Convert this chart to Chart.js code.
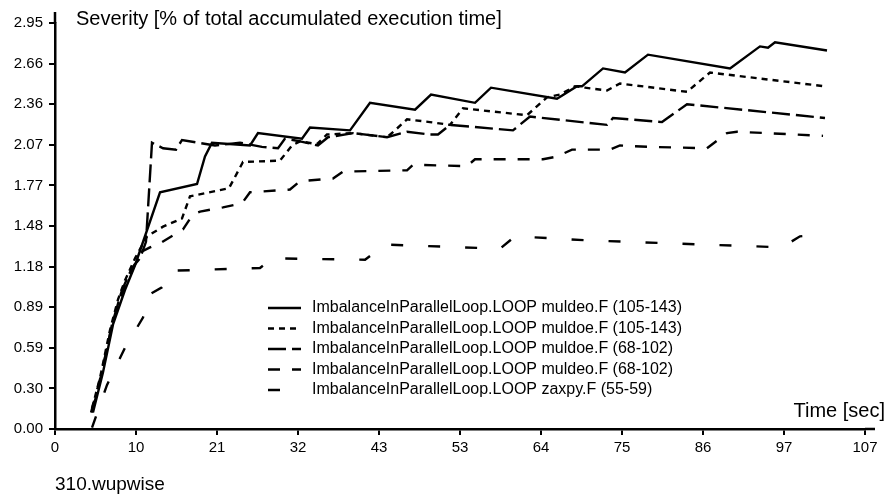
<!DOCTYPE html>
<html>
<head>
<meta charset="utf-8">
<title>310.wupwise imbalance</title>
<script src="https://cdn.jsdelivr.net/npm/chart.js@4.4.1/dist/chart.umd.min.js"></script>
<style>
    body { margin: 0; background: #fff; }
    #wrap { position: relative; width: 891px; height: 500px; }
</style>
</head>
<body>
<div id="wrap"><canvas id="severityChart"></canvas></div>
<script>
// --- Data (time in sec, severity in %) ---
const xTickLabels = ['0', '10', '21', '32', '43', '53', '64', '75', '86', '97', '107'];
const yTickLabels = ['0.00', '0.30', '0.59', '0.89', '1.18', '1.48', '1.77', '2.07', '2.36', '2.66', '2.95'];
const xMax = 107.9;
const yMax = 2.95;

const seriesNames = [
    'ImbalanceInParallelLoop.LOOP muldeo.F (105-143)',
    'ImbalanceInParallelLoop.LOOP muldoe.F (105-143)',
    'ImbalanceInParallelLoop.LOOP muldoe.F (68-102)',
    'ImbalanceInParallelLoop.LOOP muldeo.F (68-102)',
    'ImbalanceInParallelLoop.LOOP zaxpy.F (55-59)'
];

const muldeo105Time = [5.06, 6.39, 7.73, 9.32, 10.66, 13.99, 18.92, 19.98, 20.91, 25.98, 27.04, 32.90, 33.97, 39.30, 41.96, 47.96, 50.09, 55.95, 58.08, 66.87, 69.54, 70.20, 73.00, 75.93, 78.99, 89.92, 93.91, 94.98, 95.91, 102.84];
const muldeo105Sev  = [0.12, 0.41, 0.76, 1.01, 1.19, 1.72, 1.78, 1.98, 2.08, 2.06, 2.15, 2.11, 2.19, 2.17, 2.37, 2.32, 2.43, 2.37, 2.48, 2.40, 2.49, 2.49, 2.62, 2.59, 2.72, 2.62, 2.78, 2.77, 2.81, 2.75];

const muldoe105Time = [4.93, 5.99, 7.33, 8.39, 9.32, 10.66, 12.26, 14.39, 16.92, 17.98, 23.18, 25.04, 29.97, 31.57, 32.64, 34.90, 36.23, 39.70, 44.23, 45.29, 46.89, 49.95, 52.62, 54.35, 62.88, 65.54, 67.27, 69.27, 70.60, 73.53, 75.26, 84.19, 87.25, 102.57];
const muldoe105Sev  = [0.15, 0.37, 0.72, 0.94, 1.08, 1.24, 1.40, 1.47, 1.53, 1.69, 1.75, 1.94, 1.95, 2.06, 2.09, 2.07, 2.14, 2.15, 2.12, 2.17, 2.25, 2.23, 2.21, 2.33, 2.28, 2.41, 2.43, 2.49, 2.48, 2.46, 2.51, 2.45, 2.59, 2.49];

const muldoe68Time = [4.93, 6.26, 7.59, 8.93, 10.26, 11.32, 12.12, 12.92, 14.39, 16.12, 16.92, 21.31, 24.64, 27.57, 29.71, 30.64, 32.64, 35.03, 36.37, 39.70, 44.23, 46.89, 49.95, 51.02, 52.62, 61.01, 63.27, 73.53, 74.33, 80.86, 84.19, 102.57];
const muldoe68Sev  = [0.12, 0.41, 0.76, 1.01, 1.17, 1.24, 1.36, 2.08, 2.04, 2.03, 2.10, 2.06, 2.08, 2.05, 2.04, 2.11, 2.09, 2.06, 2.12, 2.15, 2.12, 2.16, 2.14, 2.14, 2.21, 2.17, 2.27, 2.21, 2.26, 2.23, 2.36, 2.26];

const muldeo68Time = [4.80, 6.13, 7.46, 8.66, 9.72, 10.66, 11.59, 12.65, 13.99, 17.05, 18.38, 19.32, 22.38, 24.91, 25.98, 31.30, 32.64, 37.03, 38.36, 46.89, 47.69, 54.88, 55.95, 65.01, 66.87, 68.87, 73.93, 75.26, 79.26, 86.85, 89.52, 90.85, 102.31];
const muldeo68Sev  = [0.12, 0.39, 0.72, 0.95, 1.08, 1.20, 1.29, 1.32, 1.35, 1.45, 1.56, 1.58, 1.61, 1.64, 1.72, 1.74, 1.80, 1.82, 1.87, 1.88, 1.92, 1.91, 1.96, 1.96, 1.98, 2.03, 2.03, 2.06, 2.05, 2.04, 2.15, 2.16, 2.13];

const zaxpyTime = [4.93, 6.93, 9.32, 11.72, 12.65, 14.25, 15.59, 27.31, 28.91, 41.30, 43.96, 59.28, 61.28, 71.27, 81.53, 96.84, 99.24, 101.24];
const zaxpySev  = [0.01, 0.32, 0.59, 0.81, 0.98, 1.03, 1.15, 1.17, 1.24, 1.23, 1.34, 1.31, 1.40, 1.37, 1.35, 1.32, 1.40, 1.41];

const seriesTimes = [muldeo105Time, muldoe105Time, muldoe68Time, muldeo68Time, zaxpyTime];
const seriesSevs = [muldeo105Sev, muldoe105Sev, muldoe68Sev, muldeo68Sev, zaxpySev];
const seriesDashes = [[], [6, 5], [18, 6], [12, 12], [12, 25]];

const fontFamily = '"Liberation Sans", Arial, sans-serif';

function toPoints(times, sevs) {
    return times.map((t, i) => ({ x: t, y: sevs[i] }));
}

// --- Extra text, legend and axis overhang ---
const annotationsPlugin = {
    id: 'annotations',
    afterDraw(chart) {
        const ctx = chart.ctx;
        const area = chart.chartArea;
        ctx.save();
        ctx.strokeStyle = '#000';
        ctx.lineWidth = 2.5;
        ctx.setLineDash([]);
        ctx.beginPath();
        ctx.moveTo(area.left, area.top);
        ctx.lineTo(area.left, 12);
        ctx.moveTo(area.right, area.bottom);
        ctx.lineTo(875, area.bottom);
        ctx.stroke();

        ctx.fillStyle = '#000';
        ctx.textBaseline = 'alphabetic';
        ctx.font = '20px ' + fontFamily;
        ctx.textAlign = 'left';
        ctx.fillText('Severity [% of total accumulated execution time]', 76, 25);
        ctx.textAlign = 'right';
        ctx.fillText('Time [sec]', 885, 417);
        ctx.textAlign = 'left';
        ctx.font = '19px ' + fontFamily;
        ctx.fillText('310.wupwise', 55, 490);

        // legend
        ctx.font = '16px ' + fontFamily;
        ctx.textBaseline = 'middle';
        chart.data.datasets.forEach((ds, i) => {
            const y = 308 + i * 20.5;
            ctx.setLineDash(ds.borderDash);
            ctx.lineWidth = 2.5;
            ctx.beginPath();
            ctx.moveTo(268, y);
            ctx.lineTo(301, y);
            ctx.stroke();
            ctx.setLineDash([]);
            ctx.fillText(ds.label, 312, y);
        });
        ctx.restore();
    }
};

function initSeverityChart() {
    const ctx = document.getElementById('severityChart');
    if (!ctx) return;

    const datasets = seriesNames.map((name, i) => ({
        label: name,
        data: toPoints(seriesTimes[i], seriesSevs[i]),
        borderColor: '#000',
        backgroundColor: '#000',
        borderWidth: 2.4,
        borderDash: seriesDashes[i],
        pointRadius: 0,
        tension: 0,
        fill: false
    }));

    new Chart(ctx.getContext('2d'), {
        type: 'line',
        data: { datasets },
        options: {
            responsive: true,
            maintainAspectRatio: false,
            animation: false,
            layout: { padding: { top: 23, right: 26, left: 0, bottom: 0 } },
            plugins: { legend: { display: false }, tooltip: { enabled: false } },
            scales: {
                x: {
                    type: 'linear',
                    min: 0,
                    max: xMax,
                    afterBuildTicks: (scale) => {
                        scale.ticks = xTickLabels.map((_, k) => ({ value: k * xMax / 10 }));
                    },
                    afterFit: (scale) => { scale.height = 71; },
                    border: { display: true, color: '#000', width: 2.5 },
                    grid: { display: true, drawOnChartArea: false, drawTicks: true, tickLength: 6, color: '#000', lineWidth: 2 },
                    ticks: {
                        autoSkip: false,
                        maxRotation: 0,
                        padding: 4,
                        color: '#000',
                        font: { family: fontFamily, size: 15 },
                        callback: (value, index) => xTickLabels[index]
                    }
                },
                y: {
                    type: 'linear',
                    min: 0,
                    max: yMax,
                    afterBuildTicks: (scale) => {
                        scale.ticks = yTickLabels.map((_, k) => ({ value: k * yMax / 10 }));
                    },
                    afterFit: (scale) => { scale.width = 55; },
                    border: { display: true, color: '#000', width: 2.5 },
                    grid: { display: true, drawOnChartArea: false, drawTicks: true, tickLength: 6, color: '#000', lineWidth: 2 },
                    ticks: {
                        autoSkip: false,
                        padding: 6,
                        color: '#000',
                        font: { family: fontFamily, size: 15 },
                        callback: (value, index) => yTickLabels[index]
                    }
                }
            }
        },
        plugins: [annotationsPlugin]
    });
}

document.addEventListener('DOMContentLoaded', () => {
    initSeverityChart();
});
</script>
</body>
</html>
